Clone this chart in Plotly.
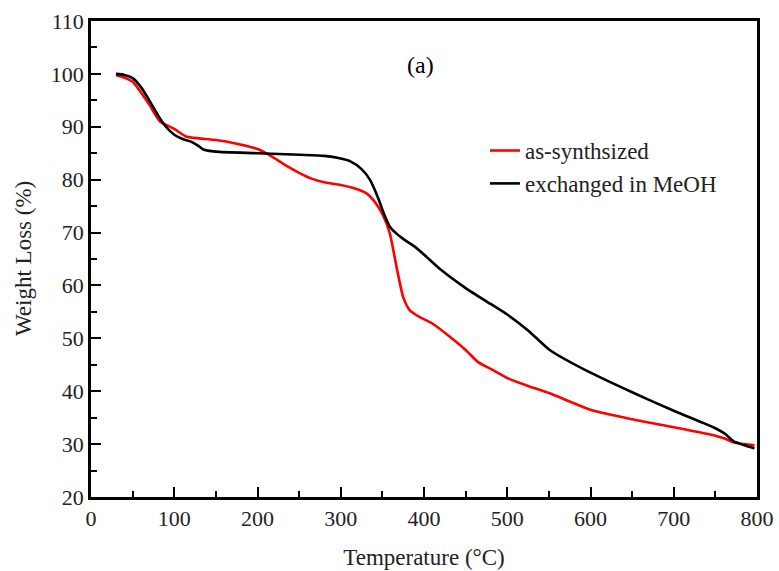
import plotly.graph_objects as go

temp_as = [30, 40, 50, 60, 70, 83, 100, 115, 130, 150, 175, 200, 215, 235, 250, 265, 280, 300, 320, 331, 340, 350, 359, 367, 375, 383, 395, 410, 431, 450, 465, 483, 500, 525, 551, 600, 650, 700, 750, 762, 772, 785, 797]
wt_as = [99.8, 99.3, 98.5, 96.5, 94.2, 91.0, 89.6, 88.1, 87.8, 87.5, 86.8, 85.8, 84.6, 82.6, 81.3, 80.2, 79.5, 79.0, 78.2, 77.4, 76.0, 73.5, 69.8, 63.5, 57.8, 55.3, 54.0, 52.8, 50.3, 47.8, 45.5, 44.0, 42.5, 41.0, 39.6, 36.5, 34.7, 33.2, 31.6, 31.0, 30.3, 30.0, 29.8]

temp_ex = [30, 40, 50, 60, 70, 80, 90, 100, 110, 120, 128, 135, 150, 200, 251, 280, 300, 311, 325, 335, 345, 352, 359, 367, 375, 390, 403, 420, 450, 480, 500, 525, 551, 600, 650, 700, 750, 762, 772, 785, 797]
wt_ex = [100.0, 99.8, 99.2, 97.5, 95.0, 92.3, 90.0, 88.5, 87.7, 87.2, 86.5, 85.7, 85.3, 85.0, 84.7, 84.5, 84.0, 83.5, 82.0, 80.0, 76.5, 73.5, 71.1, 69.8, 68.8, 67.2, 65.4, 63.0, 59.5, 56.5, 54.5, 51.5, 47.8, 43.5, 39.8, 36.3, 33.0, 31.9, 30.5, 29.8, 29.2]

series_names = ["as-synthsized", "exchanged in MeOH"]
series_colors = ["#ff0000", "#000000"]
x_title = "Temperature (°C)"
y_title = "Weight Loss (%)"
panel_label = "(a)"

FONT = "Liberation Serif, Times New Roman, serif"
TXT = "#222222"

fig = go.Figure()
fig.add_trace(go.Scatter(x=temp_as, y=wt_as, mode="lines", name=series_names[0],
                         line=dict(color=series_colors[0], width=2.6, shape="spline", smoothing=0.6)))
fig.add_trace(go.Scatter(x=temp_ex, y=wt_ex, mode="lines", name=series_names[1],
                         line=dict(color=series_colors[1], width=2.6, shape="spline", smoothing=0.6)))

axis_common = dict(
    showline=True, linecolor="black", linewidth=2.5, mirror=True,
    ticks="inside", ticklen=10, tickwidth=2, tickcolor="black",
    showgrid=False, zeroline=False, automargin=False,
    tickfont=dict(family=FONT, size=22, color=TXT),
)

fig.update_xaxes(range=[0, 800], dtick=100, tick0=0,
                 minor=dict(ticks="inside", ticklen=6, tickwidth=2, tickcolor="black", dtick=50, showgrid=False),
                 title=dict(text=x_title, font=dict(family=FONT, size=23, color=TXT), standoff=19),
                 **axis_common)
fig.update_yaxes(range=[20, 110], dtick=10, tick0=20,
                 minor=dict(ticks="inside", ticklen=6, tickwidth=2, tickcolor="black", dtick=5, showgrid=False),
                 **axis_common)

# y-axis title as rotated text
fig.add_annotation(x=-0.1021, y=0.5, xref="paper", yref="paper", text=y_title, showarrow=False,
                   textangle=-90, xanchor="center", yanchor="middle",
                   font=dict(family=FONT, size=23, color=TXT))

fig.add_annotation(x=0.494, y=0.908, xref="paper", yref="paper", text=panel_label, showarrow=False,
                   xanchor="center", yanchor="middle",
                   font=dict(family=FONT, size=24, color="black"))

fig.update_layout(
    width=779, height=571,
    margin=dict(l=91, r=22, t=21, b=74),
    paper_bgcolor="white", plot_bgcolor="white",
    showlegend=True,
    legend=dict(x=0.5915, y=0.773, xanchor="left", yanchor="top",
                font=dict(family=FONT, size=23, color=TXT),
                bgcolor="rgba(0,0,0,0)", tracegroupgap=0),
)

fig.write_html("out.html")
